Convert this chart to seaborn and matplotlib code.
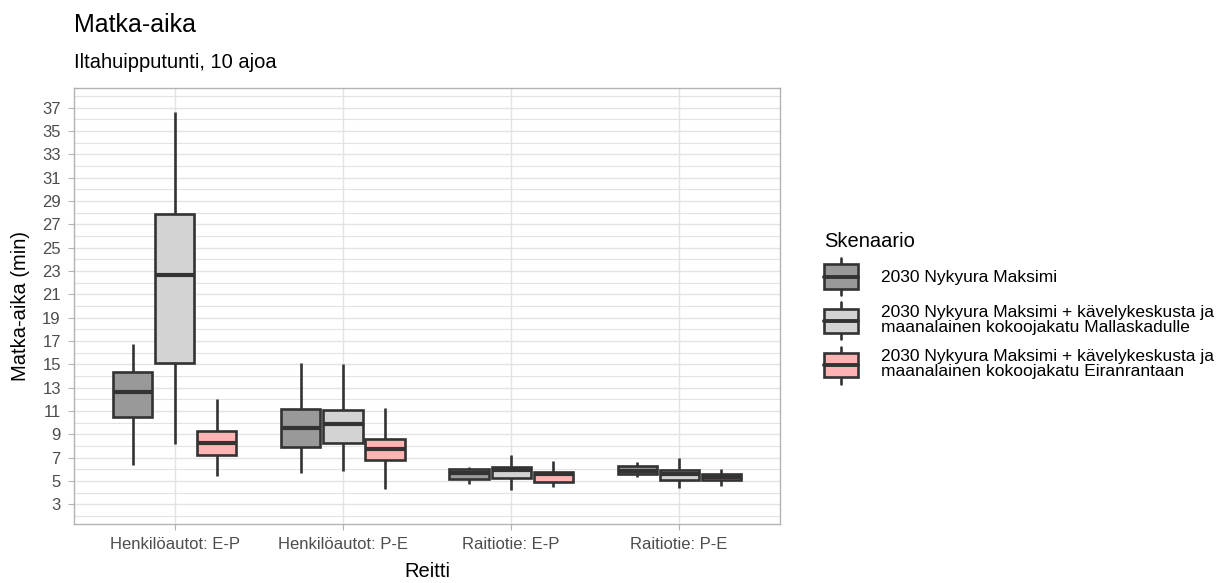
import numpy as np
import pandas as pd
import matplotlib.pyplot as plt
import seaborn as sns
from matplotlib.patches import Rectangle, Patch
from matplotlib.lines import Line2D
from matplotlib.legend_handler import HandlerBase
from matplotlib.ticker import MultipleLocator

# ---- data: five-number summaries (min, Q1, median, Q3, max) ----
routes = ["Henkilöautot: E-P", "Henkilöautot: P-E", "Raitiotie: E-P", "Raitiotie: P-E"]
scenarios = [
    "2030 Nykyura Maksimi",
    "2030 Nykyura Maksimi + kävelykeskusta ja\nmaanalainen kokoojakatu Mallaskadulle",
    "2030 Nykyura Maksimi + kävelykeskusta ja\nmaanalainen kokoojakatu Eiranrantaan",
]
nykyura = [
    [6.4, 10.45, 12.65, 14.3, 16.7],
    [5.7, 7.9, 9.5, 11.15, 15.15],
    [4.7, 5.15, 5.7, 6.0, 6.15],
    [5.35, 5.55, 5.85, 6.25, 6.6],
]
mallaskatu = [
    [8.2, 15.15, 22.65, 27.9, 36.6],
    [5.85, 8.25, 9.85, 11.05, 15.0],
    [4.2, 5.25, 5.9, 6.2, 7.2],
    [4.35, 5.05, 5.55, 5.9, 7.0],
]
eiranranta = [
    [5.45, 7.25, 8.25, 9.25, 12.0],
    [4.3, 6.8, 7.7, 8.6, 11.25],
    [4.5, 4.9, 5.55, 5.8, 6.7],
    [4.6, 5.05, 5.35, 5.55, 6.0],
]
fills = ["#999999", "#D3D3D3", "#FFB3B3"]
EDGE = "#333333"
LW = 1.9

rows = []
for scen, summ in zip(scenarios, [nykyura, mallaskatu, eiranranta]):
    for route, vals in zip(routes, summ):
        for v in vals:
            rows.append({"Reitti": route, "Skenaario": scen, "aika": v})
df = pd.DataFrame(rows)

# ---- style ----
sns.set_theme(style="white")
plt.rcParams["font.family"] = ["Liberation Sans", "DejaVu Sans"]
plt.rcParams["text.color"] = "black"
plt.rcParams["axes.labelcolor"] = "black"


class BoxKeyHandler(HandlerBase):
    # ggplot-like boxplot legend key
    def create_artists(self, legend, orig_handle, xdescent, ydescent,
                       width, height, fontsize, trans):
        x0, y0 = -xdescent, -ydescent
        fc = orig_handle.get_facecolor()
        lo, hi = y0 + 0.17 * height, y0 + 0.83 * height
        box = Rectangle((x0, lo), width, hi - lo,
                        facecolor=fc, edgecolor=EDGE, linewidth=LW, transform=trans)
        med = Line2D([x0, x0 + width], [y0 + 0.5 * height] * 2,
                     color=EDGE, lw=2.8, transform=trans)
        cx = x0 + width / 2
        w1 = Line2D([cx, cx], [y0, lo], color=EDGE, lw=LW, transform=trans)
        w2 = Line2D([cx, cx], [hi, y0 + height], color=EDGE, lw=LW, transform=trans)
        return [w1, w2, box, med]


fig = plt.figure(figsize=(12.32, 5.83), dpi=100)
ax = fig.add_axes([0.0601, 0.1012, 0.573, 0.748])

sns.boxplot(data=df, x="Reitti", y="aika", hue="Skenaario", order=routes,
            hue_order=scenarios, palette=fills, saturation=1, whis=(0, 100),
            width=0.75, gap=0.07, showcaps=False, linecolor=EDGE, linewidth=LW,
            medianprops={"linewidth": 3.0, "color": EDGE}, legend=False, ax=ax)

ax.set_xlim(-0.6, 3.6)
ax.set_ylim(1.3, 38.7)
ax.set_yticks(np.arange(3, 38, 2))
ax.yaxis.set_minor_locator(MultipleLocator(2))
ax.set_axisbelow(True)
ax.grid(which="major", axis="both", color="#E3E3E3", linewidth=1.0)
ax.grid(which="minor", axis="y", color="#E3E3E3", linewidth=0.8)
for s in ax.spines.values():
    s.set_color("#B3B3B3")
    s.set_linewidth(1.0)
ax.tick_params(axis="both", which="major", length=4.5, width=0.8, color="#B3B3B3",
               labelsize=12, labelcolor="#4D4D4D", pad=5, left=True, bottom=True)
ax.tick_params(axis="y", which="minor", length=0)

ax.set_xlabel("Reitti", fontsize=14.5, labelpad=7)
ax.set_ylabel("Matka-aika (min)", fontsize=14.5, labelpad=9)

fig.text(0.0601, 0.945, "Matka-aika", fontsize=18, va="baseline", ha="left")
fig.text(0.0601, 0.883, "Iltahuipputunti, 10 ajoa", fontsize=14.5, va="baseline", ha="left")

handles = [Patch(facecolor=c) for c in fills]
leg = ax.legend(handles, scenarios, title="Skenaario", loc="center left",
                bbox_to_anchor=(0.669, 0.472), bbox_transform=fig.transFigure,
                frameon=False, fontsize=12.5, title_fontsize=14.5, alignment="left",
                handler_map={Patch: BoxKeyHandler()}, handlelength=1.95,
                handleheight=2.9, handletextpad=1.3, labelspacing=0.42,
                borderpad=0, borderaxespad=0)
for t in leg.get_texts():
    t.set_linespacing(1.0)

fig.savefig("out.png", dpi=100)
